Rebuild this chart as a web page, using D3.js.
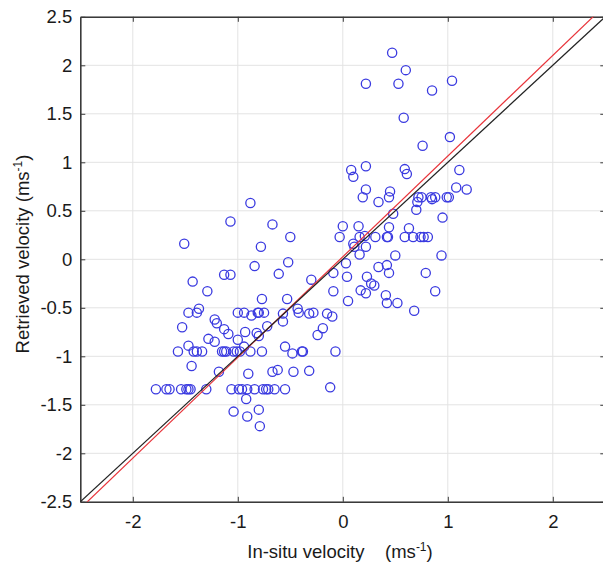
<!DOCTYPE html>
<html>
<head>
  <meta charset="utf-8">
  <title>Retrieved vs in-situ velocity</title>
  <script src="https://d3js.org/d3.v7.min.js"></script>
  <style>
    body { margin: 0; background: #fff; }
    svg { display: block; font-family: Arial, "Liberation Sans", sans-serif; }
  </style>
</head>
<body>
  <script>
    // axis ticks
    var xTicks = [-2, -1, 0, 1, 2];
    var yTicks = [-2.5, -2, -1.5, -1, -0.5, 0, 0.5, 1, 1.5, 2, 2.5];

    // in-situ velocity (x)
    var insitu = [
      0.47, 0.60, 0.22, 0.53, 0.85, 1.04, 0.58, 1.02, 0.76, 0.22,
      0.08, 0.10, 0.59, 0.61, 1.11, 0.22, 0.19, 0.34, 0.45, 0.44,
      1.08, 1.18, 0.72, 0.75, 0.84, 0.88, 0.99, 1.01, 0.71, 0.85,
      0.70, 0.48, 0.95, 0.00, 0.15, -0.03, 0.16, 0.21, 0.31, 0.42,
      0.43, 0.44, 0.59, 0.63, 0.67, 0.74, 0.77, 0.81, 0.10, 0.11,
      0.22, 0.16, 0.50, 0.94, 0.03, 0.34, 0.42, 0.44, -0.09, 0.04,
      -0.30, 0.23, 0.79, 0.27, 0.30, 0.17, 0.22, -0.09, 0.41, 0.88,
      0.05, 0.42, 0.52, 0.68, -0.42, -0.32, -0.28, -0.15, -0.10, -0.19,
      -0.24, -0.39, -0.38, -0.07, -0.32, -0.12,
      -0.88, -1.07, -0.67, -0.50, -1.51, -0.78, -0.84, -1.13, -1.07, -0.52,
      -0.61, -1.43, -1.29, -0.77, -0.53, -1.47, -1.37, -1.39, -1.00, -0.94,
      -0.87, -0.81, -0.80, -0.75, -0.57, -0.43, -1.22, -1.20, -1.53, -1.13,
      -1.09, -0.93, -0.82, -0.80, -0.72, -0.57, -1.00, -1.28, -1.22, -1.47,
      -0.94, -0.55, -1.57, -1.42, -1.39, -1.34, -1.15, -1.13, -1.11, -1.04,
      -1.01, -0.98, -0.88, -0.77, -0.48, -1.44, -1.18, -0.90, -0.67, -0.62,
      -0.47, -1.78, -1.68, -1.65, -1.54, -1.49, -1.47, -1.45, -1.30, -1.06,
      -0.99, -0.96, -0.91, -0.84, -0.76, -0.73, -0.71, -0.65, -0.55, -0.92,
      -1.04, -0.91, -0.80, -0.79
    ];

    // retrieved velocity (y)
    var retrieved = [
      2.13, 1.95, 1.81, 1.81, 1.74, 1.84, 1.46, 1.26, 1.17, 0.96,
      0.92, 0.85, 0.93, 0.88, 0.92, 0.72, 0.64, 0.59, 0.70, 0.64,
      0.74, 0.72, 0.64, 0.64, 0.64, 0.64, 0.64, 0.64, 0.59, 0.62,
      0.51, 0.47, 0.43, 0.34, 0.34, 0.23, 0.23, 0.24, 0.23, 0.23,
      0.23, 0.33, 0.23, 0.32, 0.23, 0.23, 0.23, 0.23, 0.16, 0.13,
      0.13, 0.05, 0.04, 0.04, -0.04, -0.08, -0.06, -0.14, -0.14, -0.18,
      -0.21, -0.18, -0.14, -0.25, -0.27, -0.32, -0.35, -0.33, -0.37, -0.33,
      -0.43, -0.45, -0.45, -0.53, -0.55, -0.56, -0.55, -0.56, -0.59, -0.71,
      -0.78, -0.95, -0.95, -0.95, -1.15, -1.32,
      0.58, 0.39, 0.36, 0.23, 0.16, 0.13, -0.07, -0.16, -0.16, -0.03,
      -0.15, -0.23, -0.33, -0.41, -0.41, -0.55, -0.51, -0.55, -0.55, -0.55,
      -0.58, -0.55, -0.55, -0.55, -0.56, -0.51, -0.62, -0.66, -0.70, -0.72,
      -0.77, -0.75, -0.76, -0.79, -0.69, -0.64, -0.83, -0.82, -0.85, -0.89,
      -0.90, -0.90, -0.95, -0.95, -0.95, -0.95, -0.95, -0.95, -0.95, -0.95,
      -0.95, -0.95, -0.95, -0.95, -0.97, -1.10, -1.16, -1.18, -1.16, -1.14,
      -1.16, -1.34, -1.34, -1.34, -1.34, -1.34, -1.34, -1.34, -1.34, -1.34,
      -1.34, -1.34, -1.34, -1.34, -1.34, -1.34, -1.34, -1.34, -1.34, -1.44,
      -1.57, -1.62, -1.55, -1.72
    ];

    // 1:1 line and fitted line (slope, intercept)
    var oneToOne = [1, 0];
    var fitLine = [1.038, 0.026];

    var width = 603, height = 564;
    var plotLeft = 80.3, plotRight = 605.3, plotTop = 16.8, plotBottom = 501.8;

    var svg = d3.select("body")
      .append("svg")
      .attr("width", width)
      .attr("height", height);

    var x = d3.scaleLinear().domain([-2.5, 2.5]).range([plotLeft, plotRight]);
    var y = d3.scaleLinear().domain([-2.5, 2.5]).range([plotBottom, plotTop]);

    svg.append("clipPath").attr("id", "plotclip")
      .append("rect")
      .attr("x", plotLeft).attr("y", plotTop)
      .attr("width", plotRight - plotLeft).attr("height", plotBottom - plotTop);

    // grid
    var grid = svg.append("g").attr("stroke", "#e3e3e3").attr("stroke-width", 1);
    grid.selectAll(".gx").data(xTicks).enter().append("line")
      .attr("x1", d => x(d)).attr("x2", d => x(d))
      .attr("y1", plotTop).attr("y2", plotBottom);
    grid.selectAll(".gy").data(yTicks).enter().append("line")
      .attr("x1", plotLeft).attr("x2", plotRight)
      .attr("y1", d => y(d)).attr("y2", d => y(d));

    // axes, ticks inward like MATLAB
    var fmt = d => String(d);
    var axisColor = "#3a3a3a";

    var bottomAxis = svg.append("g")
      .attr("transform", "translate(0," + plotBottom + ")")
      .call(d3.axisBottom(x).tickValues(xTicks).tickSizeInner(-5).tickSizeOuter(0).tickPadding(13).tickFormat(fmt));
    var topAxis = svg.append("g")
      .attr("transform", "translate(0," + plotTop + ")")
      .call(d3.axisTop(x).tickValues(xTicks).tickSizeInner(-5).tickSizeOuter(0).tickFormat(""));
    var leftAxis = svg.append("g")
      .attr("transform", "translate(" + plotLeft + ",0)")
      .call(d3.axisLeft(y).tickValues(yTicks).tickSizeInner(-5).tickSizeOuter(0).tickPadding(8).tickFormat(fmt));
    var rightAxis = svg.append("g")
      .attr("transform", "translate(" + plotRight + ",0)")
      .call(d3.axisRight(y).tickValues(yTicks).tickSizeInner(-5).tickSizeOuter(0).tickFormat(""));

    [bottomAxis, topAxis, leftAxis, rightAxis].forEach(function(g) {
      g.select(".domain").attr("stroke", axisColor).attr("stroke-width", 1.6);
      g.selectAll(".tick line").attr("stroke", axisColor).attr("stroke-width", 1);
      g.selectAll(".tick text")
        .attr("fill", "#1a1a1a")
        .style("font-size", "18.5px")
        .style("font-family", "Arial, 'Liberation Sans', sans-serif");
    });

    // points
    svg.append("g")
      .selectAll("circle")
      .data(d3.range(insitu.length))
      .enter()
      .append("circle")
      .attr("cx", i => x(insitu[i]))
      .attr("cy", i => y(retrieved[i]))
      .attr("r", 4.6)
      .attr("fill", "none")
      .attr("stroke", "#3a3ae0")
      .attr("stroke-width", 1.3);

    // lines
    var lineGen = d3.line().x(d => x(d[0])).y(d => y(d[1]));
    var lineG = svg.append("g").attr("clip-path", "url(#plotclip)");
    [[fitLine, "#e8343a"], [oneToOne, "#222"]].forEach(function(l) {
      var pts = [-3, 3].map(v => [v, l[0][0] * v + l[0][1]]);
      lineG.append("path")
        .attr("d", lineGen(pts))
        .attr("fill", "none")
        .attr("stroke", l[1])
        .attr("stroke-width", 1.2);
    });

    // axis labels
    var yl = svg.append("text")
      .attr("transform", "translate(29,254) rotate(-90)")
      .attr("text-anchor", "middle")
      .style("font-size", "18.5px")
      .attr("fill", "#1a1a1a");
    yl.append("tspan").text("Retrieved velocity (ms");
    yl.append("tspan").attr("dy", -7).style("font-size", "12px").text("-1");
    yl.append("tspan").attr("dy", 7).text(")");

    var xl = svg.append("text")
      .attr("x", 340)
      .attr("y", 558)
      .attr("text-anchor", "middle")
      .attr("xml:space", "preserve")
      .style("white-space", "pre")
      .style("font-size", "18.5px")
      .attr("fill", "#1a1a1a");
    xl.append("tspan").text("In-situ velocity    (ms");
    xl.append("tspan").attr("dy", -7).style("font-size", "12px").text("-1");
    xl.append("tspan").attr("dy", 7).text(")");
  </script>
</body>
</html>
